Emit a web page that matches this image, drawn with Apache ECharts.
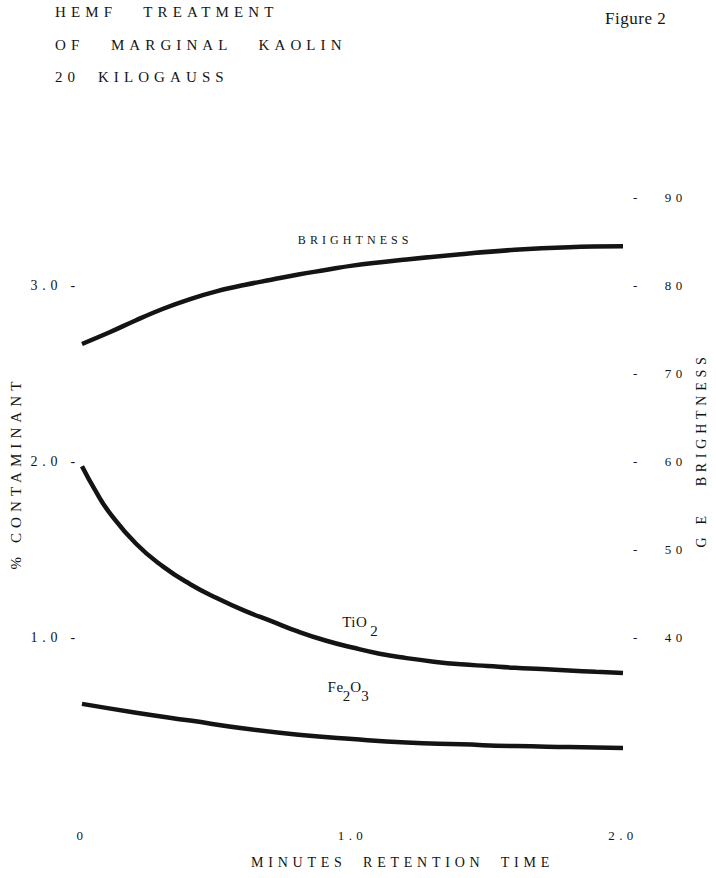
<!DOCTYPE html>
<html><head><meta charset="utf-8">
<script src="https://cdn.jsdelivr.net/npm/echarts@6/dist/echarts.min.js"></script>
<style>
html,body{margin:0;padding:0;background:#fff}
#c{width:716px;height:878px}
#c text{letter-spacing:0.34em;white-space:pre}
#c text[style*="Times"]{letter-spacing:0.03em}
</style></head><body><div id="c"></div>
<script>
// Minutes retention time (x)
const brightnessTime = [0,0.1,0.2,0.3,0.4,0.5,0.6,0.7,0.8,0.9,1.0,1.2,1.4,1.6,1.8,2.0];
const brightnessGE   = [73.3,74.6,76.0,77.3,78.4,79.3,80.0,80.6,81.2,81.7,82.2,82.9,83.5,84.0,84.3,84.4];
const tio2Time = [0,0.05,0.1,0.2,0.3,0.4,0.5,0.6,0.7,0.8,0.9,1.0,1.1,1.2,1.3,1.4,1.5,1.6,1.7,1.8,1.9,2.0];
const tio2Pct  = [1.97,1.83,1.71,1.53,1.40,1.30,1.22,1.15,1.09,1.03,0.98,0.94,0.905,0.88,0.86,0.845,0.835,0.825,0.818,0.81,0.802,0.795];
const fe2o3Time = [0,0.2,0.4,0.6,0.8,1.0,1.2,1.4,1.6,1.8,2.0];
const fe2o3Pct  = [0.62,0.57,0.525,0.48,0.445,0.42,0.40,0.39,0.38,0.375,0.37];
const xTicks = [0,1,2];
const leftTicks = [1,2,3];
const rightTicks = [40,50,60,70,80,90];

const pair = (xs, ys) => xs.map((x, i) => [x, ys[i]]);
const FONT = 'Liberation Serif';
const INK = '#141414';

const chart = echarts.init(document.getElementById('c'), null, {renderer: 'svg'});
chart.setOption({
  backgroundColor: '#fff',
  animation: false,
  title: [
    {text: 'HEMF   TREATMENT\nOF   MARGINAL   KAOLIN\n20  KILOGAUSS', left: 55, top: -4, padding: 0,
     textStyle: {fontFamily: FONT, fontSize: 15, fontWeight: 'normal', color: INK, lineHeight: 32.5}},
    {text: 'Figure 2', left: 605, top: 10, padding: 0,
     textStyle: {fontFamily: 'Times New Roman', fontSize: 17, fontWeight: 'normal', color: INK}}
  ],
  grid: {left: 82, right: 89, top: 197, bottom: 65},
  xAxis: {
    type: 'value', min: 0, max: 2, interval: 1,
    name: 'MINUTES  RETENTION  TIME', nameLocation: 'middle', nameGap: 42,
    nameTextStyle: {fontFamily: FONT, fontSize: 14, color: INK, padding: [0,0,0,100]},
    axisLine: {show: false}, axisTick: {show: false}, splitLine: {show: false},
    axisLabel: {margin: 16, fontFamily: FONT, fontSize: 13, color: INK,
      formatter: v => xTicks.includes(v) ? (v === 0 ? '0' : v.toFixed(1)) : ''}
  },
  yAxis: [
    {type: 'value', min: 0, max: 3.5, interval: 1, position: 'left',
     name: '% CONTAMINANT', nameLocation: 'middle', nameGap: 59, nameRotate: 90,
     nameTextStyle: {fontFamily: FONT, fontSize: 15, color: INK, padding: [0,0,0,64]},
     axisLine: {show: false}, axisTick: {show: false}, splitLine: {show: false},
     axisLabel: {margin: 2, fontFamily: FONT, fontSize: 14, color: INK,
       formatter: v => leftTicks.includes(v) ? v.toFixed(1) + ' -' : ''}},
    {type: 'value', min: 20, max: 90, interval: 10, position: 'right',
     name: 'G E   BRIGHTNESS', nameLocation: 'middle', nameGap: 71, nameRotate: 90,
     nameTextStyle: {fontFamily: FONT, fontSize: 14, color: INK, padding: [0,0,0,110]},
     axisLine: {show: false}, axisTick: {show: false}, splitLine: {show: false},
     axisLabel: {margin: 10, fontFamily: FONT, fontSize: 13, color: INK,
       formatter: v => rightTicks.includes(v) ? '-   ' + v : ''}}
  ],
  series: [
    {name: 'BRIGHTNESS', type: 'line', yAxisIndex: 1, data: pair(brightnessTime, brightnessGE),
     smooth: 0.4, showSymbol: false, silent: true,
     lineStyle: {color: INK, width: 4.5},
     markPoint: {symbol: 'circle', symbolSize: 0, silent: true,
       label: {show: true, position: 'inside', formatter: 'BRIGHTNESS', fontFamily: FONT, fontSize: 12, color: INK},
       data: [{coord: [1.01, 85.1]}]}},
    {name: 'TiO2', type: 'line', yAxisIndex: 0, data: pair(tio2Time, tio2Pct),
     smooth: 0.5, showSymbol: false, silent: true,
     lineStyle: {color: INK, width: 4.5},
     markPoint: {symbol: 'circle', symbolSize: 0, silent: true,
       label: {show: true, position: 'inside', formatter: '{b|TiO }{s|2}', color: INK,
         rich: {b: {fontFamily: 'Times New Roman', fontSize: 15, color: INK, padding: [0,0,9,0]},
                s: {fontFamily: 'Times New Roman', fontSize: 15, color: INK, padding: [9,0,0,0]}}},
       data: [{coord: [1.03, 1.06]}]}},
    {name: 'Fe2O3', type: 'line', yAxisIndex: 0, data: pair(fe2o3Time, fe2o3Pct),
     smooth: 0.5, showSymbol: false, silent: true,
     lineStyle: {color: INK, width: 4.5},
     markPoint: {symbol: 'circle', symbolSize: 0, silent: true,
       label: {show: true, position: 'inside', formatter: '{b|Fe}{s|2}{b|O}{s|3}', color: INK,
         rich: {b: {fontFamily: 'Times New Roman', fontSize: 15, color: INK, padding: [0,0,9,0]},
                s: {fontFamily: 'Times New Roman', fontSize: 15, color: INK, padding: [9,0,0,0]}}},
       data: [{coord: [0.985, 0.69]}]}}
  ]
});
</script></body></html>
